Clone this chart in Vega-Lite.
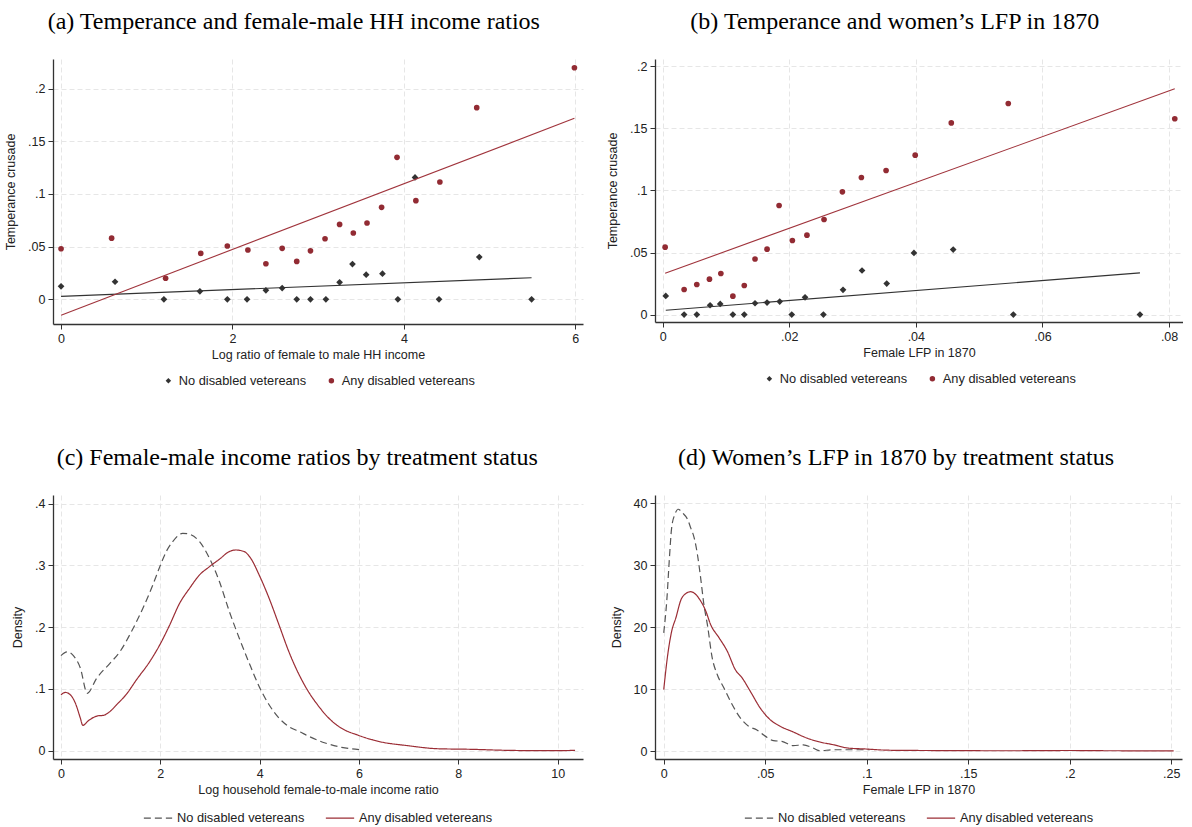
{
  "$schema": "https://vega.github.io/schema/vega-lite/v6.json",
  "padding": {"left": 4, "top": 10, "right": 0, "bottom": 0},
  "datasets": {
    "scatterA": [
      {"x": 0.0, "y": 0.048, "series": "Any disabled vetereans"},
      {"x": 0.59, "y": 0.058, "series": "Any disabled vetereans"},
      {"x": 1.22, "y": 0.020, "series": "Any disabled vetereans"},
      {"x": 1.63, "y": 0.0436, "series": "Any disabled vetereans"},
      {"x": 1.94, "y": 0.0506, "series": "Any disabled vetereans"},
      {"x": 2.18, "y": 0.0468, "series": "Any disabled vetereans"},
      {"x": 2.39, "y": 0.0338, "series": "Any disabled vetereans"},
      {"x": 2.58, "y": 0.0484, "series": "Any disabled vetereans"},
      {"x": 2.75, "y": 0.036, "series": "Any disabled vetereans"},
      {"x": 2.91, "y": 0.046, "series": "Any disabled vetereans"},
      {"x": 3.08, "y": 0.0575, "series": "Any disabled vetereans"},
      {"x": 3.25, "y": 0.0711, "series": "Any disabled vetereans"},
      {"x": 3.41, "y": 0.0629, "series": "Any disabled vetereans"},
      {"x": 3.57, "y": 0.0724, "series": "Any disabled vetereans"},
      {"x": 3.74, "y": 0.0873, "series": "Any disabled vetereans"},
      {"x": 3.92, "y": 0.1347, "series": "Any disabled vetereans"},
      {"x": 4.14, "y": 0.0936, "series": "Any disabled vetereans"},
      {"x": 4.42, "y": 0.1113, "series": "Any disabled vetereans"},
      {"x": 4.85, "y": 0.1818, "series": "Any disabled vetereans"},
      {"x": 5.99, "y": 0.2197, "series": "Any disabled vetereans"},
      {"x": 0.0, "y": 0.0123, "series": "No disabled vetereans"},
      {"x": 0.63, "y": 0.0167, "series": "No disabled vetereans"},
      {"x": 1.2, "y": 0.0, "series": "No disabled vetereans"},
      {"x": 1.62, "y": 0.0076, "series": "No disabled vetereans"},
      {"x": 1.94, "y": 0.0, "series": "No disabled vetereans"},
      {"x": 2.17, "y": 0.0, "series": "No disabled vetereans"},
      {"x": 2.39, "y": 0.0085, "series": "No disabled vetereans"},
      {"x": 2.58, "y": 0.0107, "series": "No disabled vetereans"},
      {"x": 2.75, "y": 0.0, "series": "No disabled vetereans"},
      {"x": 2.91, "y": 0.0, "series": "No disabled vetereans"},
      {"x": 3.09, "y": 0.0, "series": "No disabled vetereans"},
      {"x": 3.25, "y": 0.0161, "series": "No disabled vetereans"},
      {"x": 3.40, "y": 0.0335, "series": "No disabled vetereans"},
      {"x": 3.56, "y": 0.0234, "series": "No disabled vetereans"},
      {"x": 3.75, "y": 0.0243, "series": "No disabled vetereans"},
      {"x": 3.93, "y": 0.0, "series": "No disabled vetereans"},
      {"x": 4.13, "y": 0.1157, "series": "No disabled vetereans"},
      {"x": 4.41, "y": 0.0, "series": "No disabled vetereans"},
      {"x": 4.88, "y": 0.0401, "series": "No disabled vetereans"},
      {"x": 5.49, "y": 0.0, "series": "No disabled vetereans"}
    ],
    "fitA": [
      {"x": 0.0, "y": 0.0028, "series": "No disabled vetereans"},
      {"x": 5.49, "y": 0.0205, "series": "No disabled vetereans"},
      {"x": 0.0, "y": -0.015, "series": "Any disabled vetereans"},
      {"x": 5.99, "y": 0.1717, "series": "Any disabled vetereans"}
    ],
    "scatterB": [
      {"x": 0.0004, "y": 0.0543, "series": "Any disabled vetereans"},
      {"x": 0.0034, "y": 0.0202, "series": "Any disabled vetereans"},
      {"x": 0.0054, "y": 0.0242, "series": "Any disabled vetereans"},
      {"x": 0.0074, "y": 0.0285, "series": "Any disabled vetereans"},
      {"x": 0.0092, "y": 0.0331, "series": "Any disabled vetereans"},
      {"x": 0.0111, "y": 0.0148, "series": "Any disabled vetereans"},
      {"x": 0.0129, "y": 0.0234, "series": "Any disabled vetereans"},
      {"x": 0.0146, "y": 0.0448, "series": "Any disabled vetereans"},
      {"x": 0.0165, "y": 0.0527, "series": "Any disabled vetereans"},
      {"x": 0.0184, "y": 0.0879, "series": "Any disabled vetereans"},
      {"x": 0.0205, "y": 0.0597, "series": "Any disabled vetereans"},
      {"x": 0.0228, "y": 0.064, "series": "Any disabled vetereans"},
      {"x": 0.0255, "y": 0.0766, "series": "Any disabled vetereans"},
      {"x": 0.0284, "y": 0.0989, "series": "Any disabled vetereans"},
      {"x": 0.0314, "y": 0.1105, "series": "Any disabled vetereans"},
      {"x": 0.0353, "y": 0.1161, "series": "Any disabled vetereans"},
      {"x": 0.0399, "y": 0.1285, "series": "Any disabled vetereans"},
      {"x": 0.0456, "y": 0.1545, "series": "Any disabled vetereans"},
      {"x": 0.0546, "y": 0.1701, "series": "Any disabled vetereans"},
      {"x": 0.0809, "y": 0.1578, "series": "Any disabled vetereans"},
      {"x": 0.0005, "y": 0.015, "series": "No disabled vetereans"},
      {"x": 0.0034, "y": 0.0, "series": "No disabled vetereans"},
      {"x": 0.0054, "y": 0.0, "series": "No disabled vetereans"},
      {"x": 0.0075, "y": 0.0075, "series": "No disabled vetereans"},
      {"x": 0.0091, "y": 0.0086, "series": "No disabled vetereans"},
      {"x": 0.0111, "y": 0.0, "series": "No disabled vetereans"},
      {"x": 0.0129, "y": 0.0, "series": "No disabled vetereans"},
      {"x": 0.0146, "y": 0.0091, "series": "No disabled vetereans"},
      {"x": 0.0165, "y": 0.0097, "series": "No disabled vetereans"},
      {"x": 0.0185, "y": 0.0105, "series": "No disabled vetereans"},
      {"x": 0.0204, "y": 0.0, "series": "No disabled vetereans"},
      {"x": 0.0225, "y": 0.0139, "series": "No disabled vetereans"},
      {"x": 0.0254, "y": 0.0, "series": "No disabled vetereans"},
      {"x": 0.0285, "y": 0.0199, "series": "No disabled vetereans"},
      {"x": 0.0315, "y": 0.0355, "series": "No disabled vetereans"},
      {"x": 0.0354, "y": 0.025, "series": "No disabled vetereans"},
      {"x": 0.0397, "y": 0.0497, "series": "No disabled vetereans"},
      {"x": 0.0459, "y": 0.0524, "series": "No disabled vetereans"},
      {"x": 0.0554, "y": 0.0, "series": "No disabled vetereans"},
      {"x": 0.0754, "y": 0.0, "series": "No disabled vetereans"}
    ],
    "fitB": [
      {"x": 0.0005, "y": 0.0035, "series": "No disabled vetereans"},
      {"x": 0.0754, "y": 0.0336, "series": "No disabled vetereans"},
      {"x": 0.0004, "y": 0.0333, "series": "Any disabled vetereans"},
      {"x": 0.0809, "y": 0.182, "series": "Any disabled vetereans"}
    ],
    "densC": [
      {"x": 0.0, "y": 0.154, "series": "No disabled vetereans"},
      {"x": 0.13, "y": 0.160, "series": "No disabled vetereans"},
      {"x": 0.25, "y": 0.154, "series": "No disabled vetereans"},
      {"x": 0.39, "y": 0.134, "series": "No disabled vetereans"},
      {"x": 0.53, "y": 0.093, "series": "No disabled vetereans"},
      {"x": 0.72, "y": 0.1175, "series": "No disabled vetereans"},
      {"x": 0.99, "y": 0.1418, "series": "No disabled vetereans"},
      {"x": 1.19, "y": 0.1607, "series": "No disabled vetereans"},
      {"x": 1.42, "y": 0.193, "series": "No disabled vetereans"},
      {"x": 1.65, "y": 0.2307, "series": "No disabled vetereans"},
      {"x": 1.85, "y": 0.2684, "series": "No disabled vetereans"},
      {"x": 1.99, "y": 0.298, "series": "No disabled vetereans"},
      {"x": 2.12, "y": 0.3224, "series": "No disabled vetereans"},
      {"x": 2.25, "y": 0.3385, "series": "No disabled vetereans"},
      {"x": 2.45, "y": 0.352, "series": "No disabled vetereans"},
      {"x": 2.59, "y": 0.3504, "series": "No disabled vetereans"},
      {"x": 2.79, "y": 0.3385, "series": "No disabled vetereans"},
      {"x": 2.99, "y": 0.3116, "series": "No disabled vetereans"},
      {"x": 3.19, "y": 0.2739, "series": "No disabled vetereans"},
      {"x": 3.39, "y": 0.2254, "series": "No disabled vetereans"},
      {"x": 3.59, "y": 0.1822, "series": "No disabled vetereans"},
      {"x": 3.79, "y": 0.1418, "series": "No disabled vetereans"},
      {"x": 3.99, "y": 0.1041, "series": "No disabled vetereans"},
      {"x": 4.19, "y": 0.0744, "series": "No disabled vetereans"},
      {"x": 4.39, "y": 0.0529, "series": "No disabled vetereans"},
      {"x": 4.59, "y": 0.039, "series": "No disabled vetereans"},
      {"x": 4.82, "y": 0.0302, "series": "No disabled vetereans"},
      {"x": 4.99, "y": 0.0233, "series": "No disabled vetereans"},
      {"x": 5.32, "y": 0.0125, "series": "No disabled vetereans"},
      {"x": 5.65, "y": 0.0055, "series": "No disabled vetereans"},
      {"x": 6.02, "y": 0.0016, "series": "No disabled vetereans"},
      {"x": 0.0, "y": 0.0905, "series": "Any disabled vetereans"},
      {"x": 0.09, "y": 0.0944, "series": "Any disabled vetereans"},
      {"x": 0.19, "y": 0.0905, "series": "Any disabled vetereans"},
      {"x": 0.29, "y": 0.0771, "series": "Any disabled vetereans"},
      {"x": 0.39, "y": 0.0529, "series": "Any disabled vetereans"},
      {"x": 0.44, "y": 0.041, "series": "Any disabled vetereans"},
      {"x": 0.55, "y": 0.0485, "series": "Any disabled vetereans"},
      {"x": 0.75, "y": 0.0566, "series": "Any disabled vetereans"},
      {"x": 0.85, "y": 0.0572, "series": "Any disabled vetereans"},
      {"x": 0.99, "y": 0.0637, "series": "Any disabled vetereans"},
      {"x": 1.12, "y": 0.0744, "series": "Any disabled vetereans"},
      {"x": 1.32, "y": 0.0917, "series": "Any disabled vetereans"},
      {"x": 1.52, "y": 0.1148, "series": "Any disabled vetereans"},
      {"x": 1.79, "y": 0.1445, "series": "Any disabled vetereans"},
      {"x": 1.99, "y": 0.1714, "series": "Any disabled vetereans"},
      {"x": 2.19, "y": 0.2037, "series": "Any disabled vetereans"},
      {"x": 2.39, "y": 0.2388, "series": "Any disabled vetereans"},
      {"x": 2.59, "y": 0.263, "series": "Any disabled vetereans"},
      {"x": 2.79, "y": 0.2846, "series": "Any disabled vetereans"},
      {"x": 2.99, "y": 0.298, "series": "Any disabled vetereans"},
      {"x": 3.19, "y": 0.31, "series": "Any disabled vetereans"},
      {"x": 3.39, "y": 0.3224, "series": "Any disabled vetereans"},
      {"x": 3.52, "y": 0.325, "series": "Any disabled vetereans"},
      {"x": 3.69, "y": 0.3224, "series": "Any disabled vetereans"},
      {"x": 3.82, "y": 0.3116, "series": "Any disabled vetereans"},
      {"x": 3.99, "y": 0.2846, "series": "Any disabled vetereans"},
      {"x": 4.19, "y": 0.2469, "series": "Any disabled vetereans"},
      {"x": 4.39, "y": 0.2037, "series": "Any disabled vetereans"},
      {"x": 4.59, "y": 0.16, "series": "Any disabled vetereans"},
      {"x": 4.92, "y": 0.104, "series": "Any disabled vetereans"},
      {"x": 5.19, "y": 0.0718, "series": "Any disabled vetereans"},
      {"x": 5.39, "y": 0.0529, "series": "Any disabled vetereans"},
      {"x": 5.62, "y": 0.0378, "series": "Any disabled vetereans"},
      {"x": 5.99, "y": 0.0249, "series": "Any disabled vetereans"},
      {"x": 6.39, "y": 0.0152, "series": "Any disabled vetereans"},
      {"x": 6.99, "y": 0.0081, "series": "Any disabled vetereans"},
      {"x": 7.59, "y": 0.0032, "series": "Any disabled vetereans"},
      {"x": 8.25, "y": 0.0023, "series": "Any disabled vetereans"},
      {"x": 8.99, "y": 0.0006, "series": "Any disabled vetereans"},
      {"x": 9.85, "y": 0.0, "series": "Any disabled vetereans"},
      {"x": 10.35, "y": 0.0006, "series": "Any disabled vetereans"}
    ],
    "densD": [
      {"x": 0.0, "y": 19.06, "series": "No disabled vetereans"},
      {"x": 0.0016, "y": 24.7, "series": "No disabled vetereans"},
      {"x": 0.0027, "y": 30.6, "series": "No disabled vetereans"},
      {"x": 0.0039, "y": 36.0, "series": "No disabled vetereans"},
      {"x": 0.0055, "y": 38.2, "series": "No disabled vetereans"},
      {"x": 0.0071, "y": 39.0, "series": "No disabled vetereans"},
      {"x": 0.0093, "y": 38.4, "series": "No disabled vetereans"},
      {"x": 0.0117, "y": 37.4, "series": "No disabled vetereans"},
      {"x": 0.0133, "y": 36.0, "series": "No disabled vetereans"},
      {"x": 0.015, "y": 34.4, "series": "No disabled vetereans"},
      {"x": 0.0166, "y": 31.7, "series": "No disabled vetereans"},
      {"x": 0.0182, "y": 27.9, "series": "No disabled vetereans"},
      {"x": 0.0198, "y": 23.6, "series": "No disabled vetereans"},
      {"x": 0.0215, "y": 20.4, "series": "No disabled vetereans"},
      {"x": 0.0239, "y": 15.0, "series": "No disabled vetereans"},
      {"x": 0.0264, "y": 12.3, "series": "No disabled vetereans"},
      {"x": 0.0296, "y": 10.2, "series": "No disabled vetereans"},
      {"x": 0.0337, "y": 7.5, "series": "No disabled vetereans"},
      {"x": 0.0378, "y": 5.3, "series": "No disabled vetereans"},
      {"x": 0.0418, "y": 4.0, "series": "No disabled vetereans"},
      {"x": 0.0459, "y": 3.4, "series": "No disabled vetereans"},
      {"x": 0.05, "y": 2.4, "series": "No disabled vetereans"},
      {"x": 0.0541, "y": 1.66, "series": "No disabled vetereans"},
      {"x": 0.0582, "y": 1.56, "series": "No disabled vetereans"},
      {"x": 0.0638, "y": 0.86, "series": "No disabled vetereans"},
      {"x": 0.0687, "y": 1.0, "series": "No disabled vetereans"},
      {"x": 0.0736, "y": 0.48, "series": "No disabled vetereans"},
      {"x": 0.0769, "y": 0.05, "series": "No disabled vetereans"},
      {"x": 0.0834, "y": 0.2, "series": "No disabled vetereans"},
      {"x": 0.0932, "y": 0.2, "series": "No disabled vetereans"},
      {"x": 0.1015, "y": 0.2, "series": "No disabled vetereans"},
      {"x": 0.0, "y": 9.9, "series": "Any disabled vetereans"},
      {"x": 0.002, "y": 15.6, "series": "Any disabled vetereans"},
      {"x": 0.0039, "y": 19.3, "series": "Any disabled vetereans"},
      {"x": 0.006, "y": 21.5, "series": "Any disabled vetereans"},
      {"x": 0.0085, "y": 24.4, "series": "Any disabled vetereans"},
      {"x": 0.0109, "y": 25.4, "series": "Any disabled vetereans"},
      {"x": 0.0133, "y": 25.7, "series": "Any disabled vetereans"},
      {"x": 0.0158, "y": 25.25, "series": "Any disabled vetereans"},
      {"x": 0.0182, "y": 24.2, "series": "Any disabled vetereans"},
      {"x": 0.0207, "y": 22.6, "series": "Any disabled vetereans"},
      {"x": 0.0231, "y": 20.4, "series": "Any disabled vetereans"},
      {"x": 0.0272, "y": 18.3, "series": "Any disabled vetereans"},
      {"x": 0.0313, "y": 16.1, "series": "Any disabled vetereans"},
      {"x": 0.0353, "y": 13.1, "series": "Any disabled vetereans"},
      {"x": 0.0386, "y": 11.8, "series": "Any disabled vetereans"},
      {"x": 0.0427, "y": 9.6, "series": "Any disabled vetereans"},
      {"x": 0.0476, "y": 6.9, "series": "Any disabled vetereans"},
      {"x": 0.0524, "y": 5.06, "series": "Any disabled vetereans"},
      {"x": 0.0573, "y": 4.0, "series": "Any disabled vetereans"},
      {"x": 0.0638, "y": 3.07, "series": "Any disabled vetereans"},
      {"x": 0.0704, "y": 2.1, "series": "Any disabled vetereans"},
      {"x": 0.0769, "y": 1.45, "series": "Any disabled vetereans"},
      {"x": 0.0834, "y": 1.02, "series": "Any disabled vetereans"},
      {"x": 0.0907, "y": 0.48, "series": "Any disabled vetereans"},
      {"x": 0.0997, "y": 0.32, "series": "Any disabled vetereans"},
      {"x": 0.1078, "y": 0.16, "series": "Any disabled vetereans"},
      {"x": 0.116, "y": 0.1, "series": "Any disabled vetereans"},
      {"x": 0.13, "y": 0.08, "series": "Any disabled vetereans"},
      {"x": 0.15, "y": 0.05, "series": "Any disabled vetereans"},
      {"x": 0.17, "y": 0.04, "series": "Any disabled vetereans"},
      {"x": 0.2, "y": 0.08, "series": "Any disabled vetereans"},
      {"x": 0.22, "y": 0.04, "series": "Any disabled vetereans"},
      {"x": 0.2512, "y": 0.03, "series": "Any disabled vetereans"}
    ]
  },
  "config": {
    "font": "Liberation Sans",
    "view": {"stroke": null},
    "axis": {
      "labelFont": "Liberation Sans", "labelFontSize": 12.5, "labelColor": "#222222",
      "titleFont": "Liberation Sans", "titleFontSize": 12.5, "titleFontWeight": "normal", "titleColor": "#222222",
      "domainColor": "#333333", "domainWidth": 1.3, "tickColor": "#333333", "tickSize": 5, "tickWidth": 1,
      "gridColor": "#e6e6e6", "gridDash": [5, 3], "gridWidth": 1, "labelPadding": 3
    },
    "axisY": {"titlePadding": 10, "labelAngle": 0},
    "axisX": {"titlePadding": 4},
    "title": {"font": "Liberation Serif", "fontSize": 24, "fontWeight": "normal", "color": "#000000", "anchor": "middle", "frame": "bounds", "offset": 25},
    "legend": {"orient": "bottom", "direction": "horizontal", "labelFont": "Liberation Sans", "labelFontSize": 12.8, "labelColor": "#222222", "columnPadding": 18, "offset": 13, "layout": {"bottom": {"anchor": "middle"}}}
  },
  "resolve": {"scale": {"color": "independent", "shape": "independent", "strokeDash": "independent"}},
  "columns": 2,
  "spacing": {"row": 58, "column": 23},
  "concat": [
    {
      "title": "(a) Temperance and female-male HH income ratios",
      "width": 530, "height": 265,
      "layer": [
        {
          "data": {"name": "scatterA"},
          "mark": {"type": "point", "filled": true, "opacity": 1},
          "encoding": {
            "x": {"field": "x", "type": "quantitative", "scale": {"domain": [-0.094, 6.09], "nice": false, "zero": false}, "axis": {"values": [0, 2, 4, 6], "format": "d", "title": "Log ratio of female to male HH income"}},
            "y": {"field": "y", "type": "quantitative", "scale": {"domain": [-0.0234, 0.228], "nice": false, "zero": false}, "axis": {"values": [0, 0.05, 0.1, 0.15, 0.2], "labelExpr": "replace(toString(datum.value), '0.', '.')", "title": "Temperance crusade"}},
            "shape": {"field": "series", "type": "nominal", "scale": {"domain": ["No disabled vetereans", "Any disabled vetereans"], "range": ["diamond", "circle"]}, "legend": {"title": null, "symbolSize": 30}},
            "color": {"field": "series", "type": "nominal", "scale": {"domain": ["No disabled vetereans", "Any disabled vetereans"], "range": ["#333333", "#922b33"]}, "legend": {"title": null, "symbolSize": 30}},
            "size": {"condition": {"test": "datum.series === 'No disabled vetereans'", "value": 45}, "value": 32}
          }
        },
        {
          "data": {"name": "fitA"},
          "mark": {"type": "line", "strokeWidth": 1.1},
          "encoding": {
            "x": {"field": "x", "type": "quantitative"},
            "y": {"field": "y", "type": "quantitative"},
            "detail": {"field": "series", "type": "nominal"},
            "color": {"condition": {"test": "datum.series === 'Any disabled vetereans'", "value": "#a0343c"}, "value": "#333333"}
          }
        }
      ]
    },
    {
      "title": "(b) Temperance and women’s LFP in 1870",
      "width": 528, "height": 263,
      "layer": [
        {
          "data": {"name": "scatterB"},
          "mark": {"type": "point", "filled": true, "opacity": 1},
          "encoding": {
            "x": {"field": "x", "type": "quantitative", "scale": {"domain": [-0.0012, 0.0822], "nice": false, "zero": false}, "axis": {"values": [0, 0.02, 0.04, 0.06, 0.08], "labelExpr": "replace(toString(datum.value), '0.', '.')", "title": "Female LFP in 1870"}},
            "y": {"field": "y", "type": "quantitative", "scale": {"domain": [-0.006, 0.206], "nice": false, "zero": false}, "axis": {"values": [0, 0.05, 0.1, 0.15, 0.2], "labelExpr": "replace(toString(datum.value), '0.', '.')", "title": "Temperance crusade"}},
            "shape": {"field": "series", "type": "nominal", "scale": {"domain": ["No disabled vetereans", "Any disabled vetereans"], "range": ["diamond", "circle"]}, "legend": {"title": null, "symbolSize": 30}},
            "color": {"field": "series", "type": "nominal", "scale": {"domain": ["No disabled vetereans", "Any disabled vetereans"], "range": ["#333333", "#922b33"]}, "legend": {"title": null, "symbolSize": 30}},
            "size": {"condition": {"test": "datum.series === 'No disabled vetereans'", "value": 45}, "value": 32}
          }
        },
        {
          "data": {"name": "fitB"},
          "mark": {"type": "line", "strokeWidth": 1.1},
          "encoding": {
            "x": {"field": "x", "type": "quantitative"},
            "y": {"field": "y", "type": "quantitative"},
            "detail": {"field": "series", "type": "nominal"},
            "color": {"condition": {"test": "datum.series === 'Any disabled vetereans'", "value": "#a0343c"}, "value": "#333333"}
          }
        }
      ]
    },
    {
      "title": "(c) Female-male income ratios by treatment status",
      "width": 530, "height": 264,
      "data": {"name": "densC"},
      "mark": {"type": "line", "strokeWidth": 1.2, "interpolate": "monotone"},
      "encoding": {
        "x": {"field": "x", "type": "quantitative", "scale": {"domain": [-0.16, 10.51], "nice": false, "zero": false}, "axis": {"values": [0, 2, 4, 6, 8, 10], "format": "d", "title": "Log household female-to-male income ratio"}},
        "y": {"field": "y", "type": "quantitative", "scale": {"domain": [-0.0134, 0.414], "nice": false, "zero": false}, "axis": {"values": [0, 0.1, 0.2, 0.3, 0.4], "labelExpr": "replace(toString(datum.value), '0.', '.')", "title": "Density"}},
        "color": {"field": "series", "type": "nominal", "scale": {"domain": ["No disabled vetereans", "Any disabled vetereans"], "range": ["#555555", "#9b2d35"]}, "legend": {"title": null, "symbolType": "stroke", "symbolSize": 800, "symbolStrokeWidth": 1.2, "offset": 7}},
        "strokeDash": {"field": "series", "type": "nominal", "scale": {"domain": ["No disabled vetereans", "Any disabled vetereans"], "range": [[7, 4], [1, 0]]}, "legend": {"title": null, "symbolType": "stroke", "symbolSize": 800, "symbolStrokeWidth": 1.2, "offset": 7}}
      }
    },
    {
      "title": "(d) Women’s LFP in 1870 by treatment status",
      "width": 527, "height": 264,
      "data": {"name": "densD"},
      "mark": {"type": "line", "strokeWidth": 1.2, "interpolate": "monotone"},
      "encoding": {
        "x": {"field": "x", "type": "quantitative", "scale": {"domain": [-0.0043, 0.2553], "nice": false, "zero": false}, "axis": {"values": [0, 0.05, 0.1, 0.15, 0.2, 0.25], "labelExpr": "replace(toString(datum.value), '0.', '.')", "title": "Female LFP in 1870"}},
        "y": {"field": "y", "type": "quantitative", "scale": {"domain": [-1.29, 41.3], "nice": false, "zero": false}, "axis": {"values": [0, 10, 20, 30, 40], "title": "Density"}},
        "color": {"field": "series", "type": "nominal", "scale": {"domain": ["No disabled vetereans", "Any disabled vetereans"], "range": ["#555555", "#9b2d35"]}, "legend": {"title": null, "symbolType": "stroke", "symbolSize": 800, "symbolStrokeWidth": 1.2, "offset": 7}},
        "strokeDash": {"field": "series", "type": "nominal", "scale": {"domain": ["No disabled vetereans", "Any disabled vetereans"], "range": [[7, 4], [1, 0]]}, "legend": {"title": null, "symbolType": "stroke", "symbolSize": 800, "symbolStrokeWidth": 1.2, "offset": 7}}
      }
    }
  ]
}
